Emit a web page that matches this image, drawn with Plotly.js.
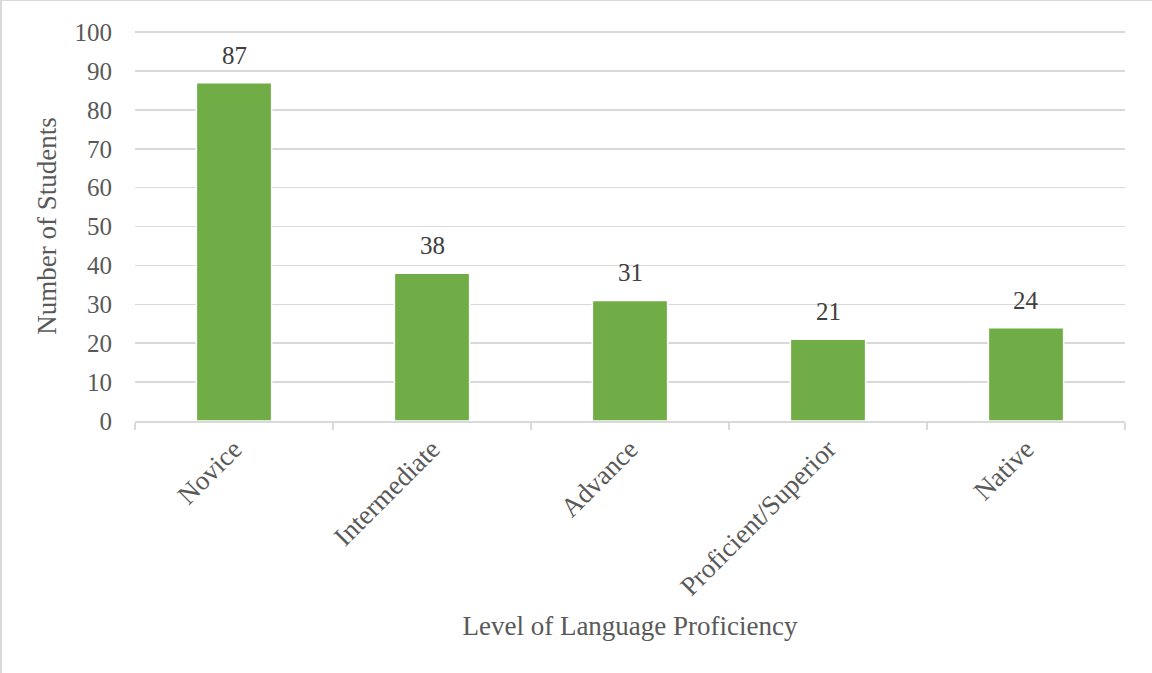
<!DOCTYPE html>
<html><head><meta charset="utf-8">
<script src="https://cdn.plot.ly/plotly-3.0.1.min.js"></script>
<style>
html,body{margin:0;padding:0;background:#fff;}
#wrap{position:absolute;left:0;top:0;width:1150px;height:672px;border-left:2px solid #d9d9d9;border-top:1px solid #d9d9d9;}
#chart{width:1150px;height:672px;}
</style></head>
<body><div id="wrap"><div id="chart"></div></div>
<script>
const categories = ["Novice","Intermediate","Advance","Proficient/Superior","Native"];
const students = [87,38,31,21,24];
const barLabels = ["87","38","31","21","24"];

const fam = "'Liberation Serif','Times New Roman',serif";
const numFont = {family:fam, size:25, color:"#595959"};
const txtFont = {family:fam, size:27, color:"#595959"};
const annotations = categories.map((c,i)=>({
  x:c, y:students[i], xref:'x', yref:'y', text:barLabels[i], showarrow:false,
  yanchor:'bottom', yshift:12, font:{family:fam, size:25, color:"#404040"}
}));
Plotly.newPlot('chart',[{
  type:'bar', x:categories, y:students, marker:{color:'#70ad47', line:{color:'#ffffff', width:1.5}}, hoverinfo:'none'
}],{
  width:1150, height:672,
  margin:{l:133,r:27,t:30,b:252},
  paper_bgcolor:'#fff', plot_bgcolor:'#fff',
  bargap:0.62,
  font:numFont,
  showlegend:false,
  xaxis:{
    tickangle:-45, ticks:'outside', tickson:'boundaries', ticklen:7, tickcolor:'#d9d9d9', tickwidth:1.5,
    showline:true, linecolor:'#d9d9d9', linewidth:1.5, showgrid:false,
    tickfont:txtFont,
    title:{text:'Level of Language Proficiency', font:txtFont, standoff:15}
  },
  yaxis:{
    range:[0,100.3], tickvals:[0,10,20,30,40,50,60,70,80,90,100], showgrid:true, gridcolor:'#d9d9d9', gridwidth:1.5,
    zeroline:false, showline:false, ticks:'', tickfont:numFont, ticklabelstandoff:22,
    title:{text:'Number of Students', font:txtFont, standoff:10}
  },
  annotations:annotations
},{staticPlot:true});
</script></body></html>
